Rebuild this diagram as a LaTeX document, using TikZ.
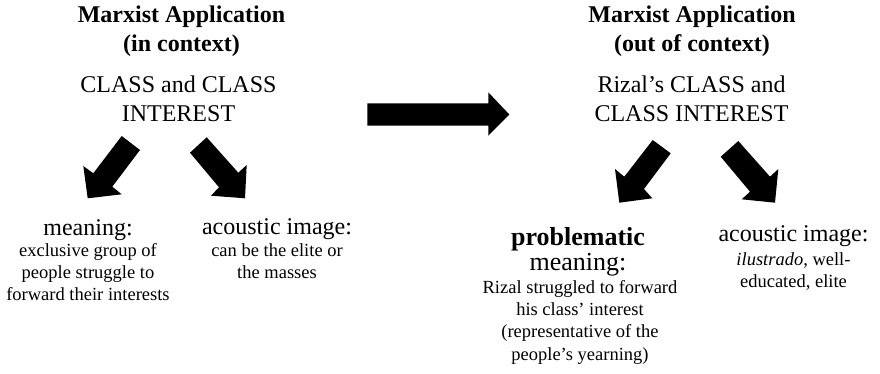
\documentclass[tikz,border=0pt]{standalone}
\usepackage{fontspec}
\setmainfont{Liberation Serif}
\begin{document}
\begin{tikzpicture}[x=1pt,y=-1pt,
  every node/.style={inner sep=0pt, outer sep=0pt},
  title/.style={font=\fontsize{24}{29}\selectfont\bfseries, align=center, anchor=base},
  sub/.style={font=\fontsize{24}{29}\selectfont, align=center, anchor=base},
  head/.style={font=\fontsize{24}{29}\selectfont, anchor=base},
  bighead/.style={font=\fontsize{26}{31}\selectfont, anchor=base},
  desc/.style={font=\fontsize{18.5}{22.2}\selectfont, align=center, anchor=base},
  blockarrow/.style={fill=black, draw=none}]
\useasboundingbox (0,0) rectangle (880,374);

% left column (multi-line nodes are anchored at the baseline of their last line)
\node[title] (t1) at (181.5,52) {Marxist Application\\(in context)};
\node[sub] (s1) at (178.5,122) {CLASS and CLASS\\INTEREST};
\node[head] (m1) at (88,235) {meaning:};
\node[desc] (m1d) at (88,300.7) {exclusive group of\\people struggle to\\forward their interests};
\node[head] (a1) at (277,234) {acoustic image:};
\node[desc] (a1d) at (277,278.5) {can be the elite or\\the masses};

% right column
\node[title] (t2) at (692,52) {Marxist Application\\(out of context)};
\node[sub] (s2) at (691.5,122) {Rizal’s CLASS and\\CLASS INTEREST};
\node[bighead, font=\fontsize{26}{31}\selectfont\bfseries] (p2) at (578,245.5) {problematic};
\node[bighead] (m2) at (578,270.5) {meaning:};
\node[desc] (m2d) at (580,360) {Rizal struggled to forward\\his class’ interest\\(representative of the\\people’s yearning)};
\node[head] (a2) at (793.5,241.7) {acoustic image:};
\node[desc] (a2d) at (793.5,287.3) {\textit{ilustrado}, well-\\educated, elite};

% block arrows, left pair
\fill[blockarrow] (121.7,136) -- (140,150) -- (112.3,186.7) -- (121.7,194.3)
  -- (87.7,198.3) -- (83.3,166) -- (93.3,173.3) -- cycle;
\fill[blockarrow] (206.7,137.3) -- (190,152.7) -- (219,187.3) -- (211,195.7)
  -- (245,198.3) -- (246.7,165) -- (238.3,172.7) -- cycle;

% big arrow
\fill[blockarrow] (367.3,103.3) -- (488.3,103.3) -- (488.3,92.3) -- (509.3,114.5)
  -- (488.3,135.7) -- (488.3,125.7) -- (367.3,125.7) -- cycle;

% block arrows, right pair
\fill[blockarrow] (652.7,140) -- (670.7,153.3) -- (644,189) -- (652.3,198.3)
  -- (619.3,202.7) -- (615,169) -- (624.3,176.7) -- cycle;
\fill[blockarrow] (738.3,141) -- (720.7,156.7) -- (750,191.7) -- (741.7,199.3)
  -- (775,202.7) -- (778.3,169) -- (770,176.7) -- cycle;
\end{tikzpicture}
\end{document}
